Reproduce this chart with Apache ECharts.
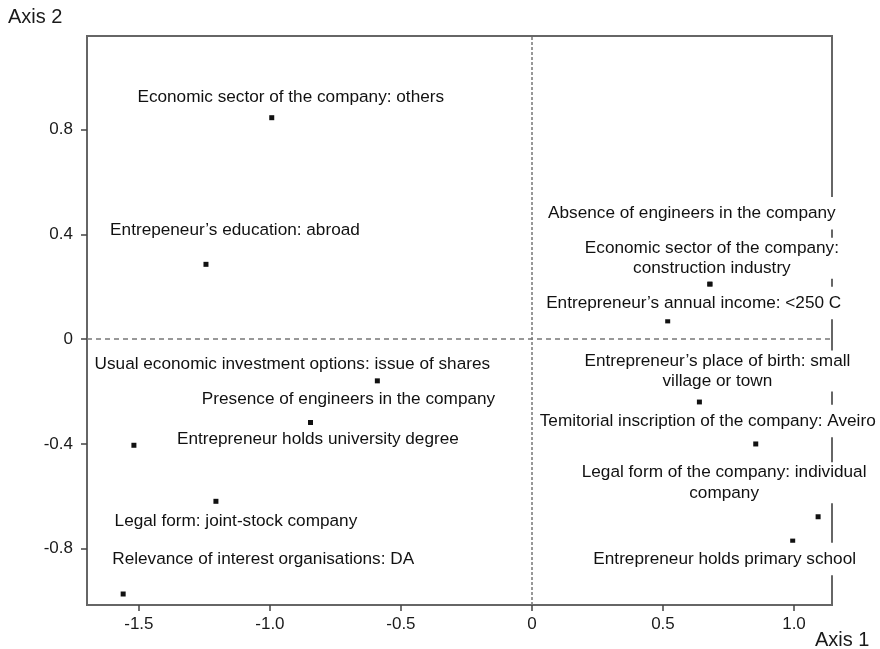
<!DOCTYPE html>
<html>
<head>
<meta charset="utf-8">
<script src="https://cdn.jsdelivr.net/npm/echarts@6/dist/echarts.min.js"></script>
<style>
  html, body { margin: 0; padding: 0; background: #fff; }
  #chart { width: 880px; height: 649px; }
</style>
</head>
<body>
<div id="chart"></div>
<script>
// category labels and their coordinates (Axis 1, Axis 2)
const names = [
  'Economic sector of the company: others',
  'Entrepeneur\u2019s education: abroad',
  'Absence of engineers in the company',
  'Economic sector of the company:\nconstruction industry',
  'Entrepreneur\u2019s annual income: <250 C',
  'Entrepreneur\u2019s place of birth: small\nvillage or town',
  'Temitorial inscription of the company: Aveiro',
  'Legal form of the company: individual\ncompany',
  'Entrepreneur holds primary school',
  'Usual economic investment options: issue of shares',
  'Presence of engineers in the company',
  'Entrepreneur holds university degree',
  'Legal form: joint-stock company',
  'Relevance of interest organisations: DA'
];
const axis1 = [-0.993, -1.244, 0.679, 0.679, 0.518, 0.639, 0.854, 1.092, 0.995, -0.590, -0.845, -1.519, -1.206, -1.560];
const axis2 = [0.846, 0.286, 0.210, 0.210, 0.070, -0.240, -0.400, -0.678, -0.771, -0.159, -0.318, -0.405, -0.619, -0.973];

const xTicks = [-1.5, -1.0, -0.5, 0, 0.5, 1.0];
const yTicks = [-0.8, -0.4, 0, 0.4, 0.8];

// where each label sits relative to its point (pixels)
const labelOffsets = [
  [19, -20], [29, -34], [-18, -71], [2, -26], [26, -18], [18, -31], [-48, -23],
  [-94, -34], [-68, 18], [-85, -17], [38, -23], [184, -6], [20, 20], [140, -35]
];
// labels that run over the right frame get a white box
const boxed = [false, false, true, true, true, true, true, true, true, false, false, false, false, false];

const fmt = v => (v === 0 ? '0' : v.toFixed(1));
const FONT = "'Liberation Sans', Arial, Helvetica, sans-serif";

const chart = echarts.init(document.getElementById('chart'));

const data = names.map((n, i) => ({
  name: n,
  value: [axis1[i], axis2[i]],
  label: {
    offset: labelOffsets[i],
    backgroundColor: boxed[i] ? '#fff' : 'transparent',
    padding: boxed[i] ? (n.indexOf('\n') >= 0 ? [0, 1] : [6, 1]) : 0
  }
}));

chart.setOption({
  animation: false,
  backgroundColor: '#fff',
  textStyle: { fontFamily: FONT },
  grid: {
    left: 87, right: 48, top: 36, bottom: 44,
    show: true, borderColor: '#666', borderWidth: 2
  },
  xAxis: {
    type: 'value',
    min: -1.698, max: 1.145,
    splitLine: { show: false },
    axisLine: { show: true, onZero: false, lineStyle: { color: '#666', width: 2 } },
    axisTick: { show: true, customValues: xTicks, length: 6, lineStyle: { color: '#444', width: 1.5 } },
    axisLabel: { customValues: xTicks, formatter: fmt, fontSize: 17, color: '#1a1a1a', margin: 11, fontFamily: FONT }
  },
  yAxis: {
    type: 'value',
    min: -1.015, max: 1.158,
    splitLine: { show: false },
    axisLine: { show: true, onZero: false, lineStyle: { color: '#666', width: 2 } },
    axisTick: { show: true, customValues: yTicks, length: 6, lineStyle: { color: '#444', width: 1.5 } },
    axisLabel: { customValues: yTicks, formatter: fmt, fontSize: 17, color: '#1a1a1a', margin: 14, fontFamily: FONT }
  },
  graphic: [
    { type: 'text', left: 8, top: 7, style: { text: 'Axis 2', font: '20px ' + FONT, fill: '#1a1a1a' } },
    { type: 'text', left: 815, top: 630, style: { text: 'Axis 1', font: '20px ' + FONT, fill: '#1a1a1a' } }
  ],
  series: [{
    type: 'scatter',
    symbol: 'rect',
    symbolSize: 5,
    itemStyle: { color: '#111', opacity: 1 },
    label: {
      show: true,
      position: 'inside',
      formatter: '{b}',
      color: '#111',
      fontSize: 17.2,
      lineHeight: 20.5,
      align: 'center',
      verticalAlign: 'middle',
      fontFamily: FONT
    },
    data: data,
    markLine: {
      silent: true,
      symbol: ['none', 'none'],
      label: { show: false },
      lineStyle: { color: '#777', width: 1.5 },
      data: [
        { xAxis: 0, lineStyle: { type: [3, 2], color: '#777', width: 1.5 } },
        { yAxis: 0, lineStyle: { type: [5, 4], color: '#777', width: 1.5 } }
      ]
    }
  }]
});
</script>
</body>
</html>
